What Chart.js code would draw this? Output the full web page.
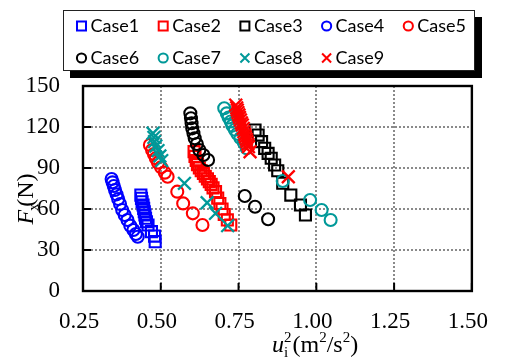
<!DOCTYPE html>
<html><head><meta charset="utf-8">
<script src="https://cdn.jsdelivr.net/npm/chart.js@4/dist/chart.umd.min.js"></script>
<style>html,body{margin:0;padding:0;background:#fff}#wrap{position:relative;width:509px;height:360px}</style>
</head><body><div id="wrap"><canvas id="c" width="509" height="360"></canvas></div>
<script>
// ---- data ----
const caseLabels = ['Case1','Case2','Case3','Case4','Case5','Case6','Case7','Case8','Case9'];
const xTickValues = [0.25,0.5,0.75,1.0,1.25,1.5];
const yTickValues = [0,30,60,90,120,150];

const case1X = [0.436,0.438,0.440,0.443,0.445,0.447,0.449,0.451,0.454,0.459,0.470,0.480,0.482];
const case1Y = [70.2,67.8,65.3,62.9,60.5,58.0,55.6,53.2,50.7,48.3,43.4,40.2,36.1];
const case2X = [0.607,0.610,0.614,0.618,0.624,0.630,0.637,0.643,0.650,0.656,0.662,0.668,0.676,0.683,0.690,0.697,0.704,0.714,0.725];
const case2Y = [102,98.5,95.5,92.5,90,88,86,84,82,80,78,75.5,72.7,68,64,60,56,52,48.3];
const case3X = [0.803,0.813,0.824,0.834,0.845,0.855,0.866,0.876,0.892,0.918,0.949,0.965];
const case3Y = [117.8,114.1,109.3,104.4,100.7,97.1,92.2,88,78.8,70.2,62.9,55.6];
const case4X = [0.342,0.345,0.349,0.353,0.358,0.363,0.369,0.376,0.384,0.393,0.402,0.412,0.420,0.426];
const case4Y = [82,79.5,76.8,73.9,70.7,67.3,63.7,59.3,55.6,52,47.8,44.6,41.7,39.7];
const case5X = [0.465,0.472,0.478,0.484,0.491,0.501,0.513,0.522,0.553,0.572,0.603,0.634];
const case5Y = [106.8,103.2,100.2,97.1,93.9,90.5,86.6,83.6,72.7,64.1,56.8,48.3];
const case6X = [0.595,0.597,0.599,0.601,0.605,0.609,0.616,0.624,0.637,0.652,0.770,0.803,0.845];
const case6Y = [130,126.4,122.7,119,115.4,111.7,107.6,103.2,99.5,95.9,69.5,61.7,52.5];
const case7X = [0.704,0.712,0.718,0.725,0.730,0.738,0.746,0.756,0.767,0.776,0.892,0.980,1.017,1.046];
const case7Y = [133.7,130,127,124,121,118,115,112,108.5,104.4,80.5,66.6,59.3,52];
const case8X = [0.475,0.478,0.480,0.484,0.491,0.497,0.503,0.576,0.649,0.676,0.715];
const case8Y = [115.4,112.4,109.3,106.1,102.7,98.8,95.4,78.8,64.6,56.8,47.8];
const case9X = [0.741,0.744,0.746,0.748,0.751,0.753,0.756,0.759,0.762,0.765,0.767,0.770,0.772,0.775,0.777,0.780,0.782,0.787,0.910];
const case9Y = [136,134,132.4,130.5,128.8,127,125.1,123,121.5,119,116.6,114.5,112.9,111,109.3,107.5,105.6,101.9,83.6];

const allX = [case1X,case2X,case3X,case4X,case5X,case6X,case7X,case8X,case9X];
const allY = [case1Y,case2Y,case3Y,case4Y,case5Y,case6Y,case7Y,case8Y,case9Y];

// ---- styles ----
const BLUE='#0000FF', RED='#FF0000', BLACK='#000000', TEAL='#009999';
const colors = [BLUE,RED,BLACK,BLUE,RED,BLACK,TEAL,TEAL,RED];
const styles = ['rect','rect','rect','circle','circle','circle','circle','crossRot','crossRot'];
const radii = {rect:7.8, circle:6.0, crossRot:9.0};

const datasets = caseLabels.map((lab,i)=>({
  label: lab,
  data: allX[i].map((x,j)=>({x:x, y:allY[i][j]})),
  pointStyle: styles[i],
  pointRadius: radii[styles[i]],
  pointHoverRadius: radii[styles[i]],
  pointBorderColor: colors[i],
  pointBackgroundColor: 'rgba(0,0,0,0)',
  pointBorderWidth: styles[i]==='crossRot' ? 2.3 : 2.1,
  borderColor: colors[i],
  showLine: false,
  order: 9 - i
}));

const SERIF = '"Liberation Serif", "Times New Roman", serif';

const framePlugin = {
  id:'frame',
  afterDraw(chart){
    const {ctx, chartArea:a, scales:{x,y}} = chart;
    ctx.save();
    // inner tick marks
    ctx.strokeStyle='#000'; ctx.lineWidth=2;
    ctx.beginPath();
    xTickValues.forEach(v=>{ const px=x.getPixelForValue(v); ctx.moveTo(px,a.bottom); ctx.lineTo(px,a.bottom-8); });
    yTickValues.forEach(v=>{ const py=y.getPixelForValue(v); ctx.moveTo(a.left,py); ctx.lineTo(a.left+8,py); });
    ctx.stroke();
    // plot frame
    ctx.lineWidth=2.4;
    ctx.strokeRect(a.left,a.top,a.right-a.left,a.bottom-a.top);

    // y axis title  F_x(N)
    ctx.fillStyle='#000';
    ctx.textBaseline='alphabetic'; ctx.textAlign='left';
    ctx.save();
    ctx.translate(33, (a.top+a.bottom)/2 + 36);
    ctx.rotate(-Math.PI/2);
    ctx.font='italic 24px '+SERIF; ctx.fillText('F',0,0);
    let w = ctx.measureText('F').width;
    ctx.font='14px '+SERIF; ctx.fillText('x', w-1, 5);
    ctx.font='24px '+SERIF; ctx.fillText('(N)', w+3, 0);
    ctx.restore();

    // x axis title  u_i^2(m^2/s^2)
    let cx = 272, by = 352;
    ctx.font='italic 24px '+SERIF; ctx.fillText('u',cx,by);
    cx += ctx.measureText('u').width;
    ctx.font='15px '+SERIF; ctx.fillText('i',cx,by+5); ctx.fillText('2',cx,by-10);
    cx += ctx.measureText('2').width + 1;
    ctx.font='24px '+SERIF; ctx.fillText('(m',cx,by); cx += ctx.measureText('(m').width;
    ctx.font='15px '+SERIF; ctx.fillText('2',cx,by-10); cx += ctx.measureText('2').width;
    ctx.font='24px '+SERIF; ctx.fillText('/s',cx,by); cx += ctx.measureText('/s').width;
    ctx.font='15px '+SERIF; ctx.fillText('2',cx,by-10); cx += ctx.measureText('2').width;
    ctx.font='24px '+SERIF; ctx.fillText(')',cx,by);

    // legend box with shadow
    const L=63, T=10, W=412, H=61, S=7;
    ctx.fillStyle='#000'; ctx.fillRect(L+S,T+S,W,H);
    ctx.fillStyle='#fff'; ctx.fillRect(L,T,W,H);
    ctx.strokeStyle='#222'; ctx.lineWidth=1; ctx.strokeRect(L+0.5,T+0.5,W-1,H-1);
    ctx.font='18px Lato, "Liberation Sans", sans-serif';
    ctx.textBaseline='middle';
    chart.data.datasets.forEach((ds,i)=>{
      const col = i%5, row = Math.floor(i/5);
      const mx = 81.5 + col*81.7, my = 26 + row*32;
      ctx.strokeStyle = colors[i]; ctx.lineWidth = 2;
      ctx.beginPath();
      if (styles[i]==='rect') ctx.rect(mx-4.5,my-4.5,9,9);
      else if (styles[i]==='circle') ctx.arc(mx,my,4.6,0,Math.PI*2);
      else { ctx.moveTo(mx-4.5,my-4.5); ctx.lineTo(mx+4.5,my+4.5); ctx.moveTo(mx+4.5,my-4.5); ctx.lineTo(mx-4.5,my+4.5); }
      ctx.stroke();
      ctx.fillStyle='#000';
      ctx.fillText(ds.label, mx+9, my);
    });
    ctx.restore();
  }
};

const gridColor = (min,max) => (c) => {
  const v = c.tick ? c.tick.value : null;
  return (v===min || v===max) ? 'rgba(0,0,0,0)' : '#8a8a8a';
};

new Chart(document.getElementById('c'), {
  type:'scatter',
  data:{ datasets },
  options:{
    responsive:false, animation:false, devicePixelRatio:1,
    layout:{ padding:{ left:0, right:25, top:86, bottom:0 } },
    plugins:{ legend:{display:false}, tooltip:{enabled:false} },
    scales:{
      x:{ type:'linear', min:0.25, max:1.5,
        afterBuildTicks: s => { s.ticks = xTickValues.map(v=>({value:v})); },
        ticks:{ callback: v => Number(v).toFixed(2), font:{family:SERIF, size:23}, color:'#000', padding:17, labelOffset:-4, maxRotation:0, autoSkip:false },
        grid:{ color: gridColor(0.25,1.5), lineWidth:2, drawTicks:false },
        border:{ display:false, dash:[2,2] },
        afterFit: s => { s.height = 69; }
      },
      y:{ type:'linear', min:0, max:150,
        afterBuildTicks: s => { s.ticks = yTickValues.map(v=>({value:v})); },
        ticks:{ font:{family:SERIF, size:23}, color:'#000', padding:23 },
        grid:{ color: gridColor(0,150), lineWidth:2, drawTicks:false },
        border:{ display:false, dash:[2,2] },
        afterFit: s => { s.width = 83; }
      }
    }
  },
  plugins:[framePlugin]
});
</script>
</body></html>
